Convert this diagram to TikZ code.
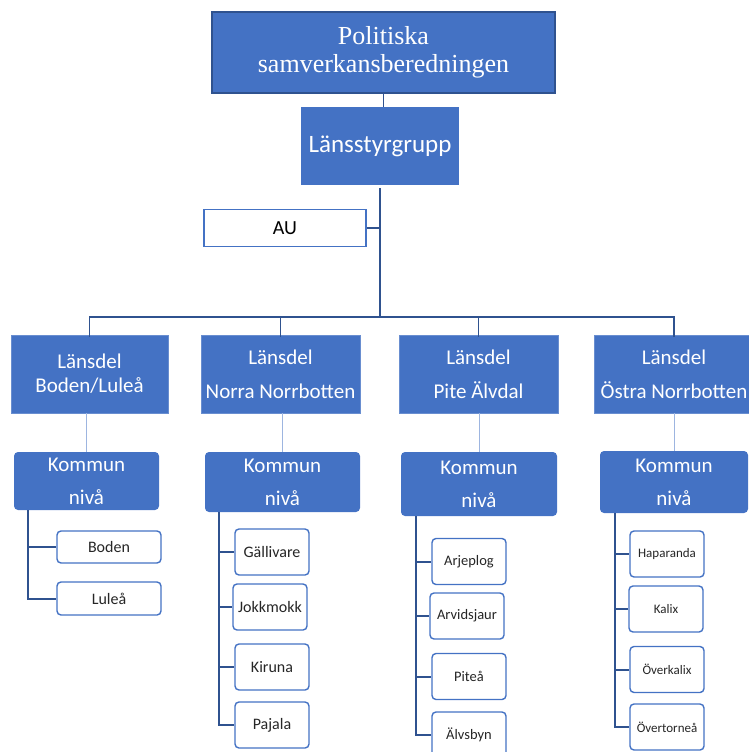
\documentclass[tikz,border=0pt]{standalone}
\usepackage{fontspec}
\setmainfont{Carlito}
\newfontfamily\titlefont{Liberation Serif}
\definecolor{orgblue}{HTML}{4472C4}
\definecolor{orgdark}{HTML}{2F528F}
\definecolor{orglight}{HTML}{9DB5E0}
\definecolor{leaftext}{HTML}{262626}
\tikzset{
    bluebox/.style={fill=orgblue, text=white, inner sep=0pt, align=center},
    topbox/.style={bluebox, draw=orgdark, line width=1.5pt, minimum width=343pt, minimum height=81pt,
        font=\titlefont\fontsize{26}{28}\selectfont},
    ldbox/.style={bluebox, draw=orgblue!80!white, line width=0.6pt, minimum height=78pt},
    kmbox/.style={bluebox, rounded corners=4pt, font=\fontsize{21}{33}\selectfont},
    leafbox/.style={draw=orgblue, fill=white, line width=1.4pt, rounded corners=4pt, inner sep=0pt,
        minimum width=74pt, minimum height=46pt, text=leaftext},
    trunk/.style={draw=orgdark, line width=1.7pt},
    busline/.style={draw=orgdark, line width=1.3pt},
    thinline/.style={draw=orglight, line width=0.9pt},
    spine/.style={draw=orgdark, line width=2pt}
}
\begin{document}
\begin{tikzpicture}[x=1pt, y=-1pt]
    \useasboundingbox (0, 0) rectangle (748, 752);
    % top levels
    \node[topbox] (pol) at (383.5, 52.5) {Politiska\\samverkansberedningen};
    \node[bluebox, minimum width=158pt, minimum height=78pt, font=\fontsize{25}{30}\selectfont] (lsg) at (380, 146) {Länsstyrgrupp};
    \node[draw=orgblue, line width=1.6pt, fill=white, inner sep=0pt, minimum width=162pt, minimum height=37pt,
        font=\fontsize{20}{24}\selectfont] (au) at (285, 228) {AU};
    \draw[trunk] (pol.south) -- (pol.south |- lsg.north);
    \coordinate (bus) at (380, 317);
    \draw[trunk] ([yshift=-3pt]lsg.south) -- (bus);
    \draw[trunk] (au.east) -- (au.east -| lsg.south);
    % länsdelar
    \node[ldbox, minimum width=157pt, font=\fontsize{21}{24}\selectfont] (ld1) at (89.5, 374) {Länsdel\\Boden/Luleå};
    \node[ldbox, minimum width=159pt, font=\fontsize{21}{34}\selectfont] (ld2) at (280.5, 374) {Länsdel\\Norra Norrbotten};
    \node[ldbox, minimum width=159pt, font=\fontsize{21}{34}\selectfont] (ld3) at (478.5, 374) {Länsdel\\Pite Älvdal};
    \node[ldbox, minimum width=160pt, font=\fontsize{21}{34}\selectfont] (ld4) at (674, 374) {Länsdel\\Östra Norrbotten};
    \draw[busline] ([yshift=-2pt]ld1.north) |- (bus) -| ([yshift=-2pt]ld4.north);
    \draw[busline] ([yshift=-2pt]ld2.north) -- (ld2.north |- bus);
    \draw[busline] ([yshift=-2pt]ld3.north) -- (ld3.north |- bus);
    % kommunnivå
    \node[kmbox, minimum width=145pt, minimum height=58pt] (km1) at (86.5, 481) {Kommun\\nivå};
    \node[kmbox, minimum width=155pt, minimum height=60pt] (km2) at (282.5, 482) {Kommun\\nivå};
    \node[kmbox, minimum width=156pt, minimum height=64pt] (km3) at (479, 484) {Kommun\\nivå};
    \node[kmbox, minimum width=148pt, minimum height=62pt] (km4) at (674, 482) {Kommun\\nivå};
    \draw[thinline] (ld1.south -| km1.north) -- (km1.north);
    \draw[thinline] (ld2.south -| km2.north) -- (km2.north);
    \draw[thinline] (ld3.south -| km3.north) -- (km3.north);
    \draw[thinline] (ld4.south -| km4.north) -- (km4.north);
    % kommuner
    \node[leafbox, minimum width=104pt, minimum height=32pt, font=\fontsize{16}{19}\selectfont] (boden) at (109, 547) {Boden};
    \node[leafbox, minimum width=104pt, minimum height=33pt, font=\fontsize{16}{19}\selectfont] (lulea) at (109, 598.5) {Luleå};
    \node[leafbox, font=\fontsize{16}{19}\selectfont] (gallivare) at (272, 552) {Gällivare};
    \node[leafbox, font=\fontsize{16}{19}\selectfont] (jokkmokk) at (270, 607) {Jokkmokk};
    \node[leafbox, font=\fontsize{16}{19}\selectfont] (kiruna) at (272, 667) {Kiruna};
    \node[leafbox, font=\fontsize{16}{19}\selectfont] (pajala) at (272, 725) {Pajala};
    \node[leafbox, font=\fontsize{14.5}{17}\selectfont] (arjeplog) at (469, 561.5) {Arjeplog};
    \node[leafbox, font=\fontsize{14.5}{17}\selectfont] (arvidsjaur) at (467, 616) {Arvidsjaur};
    \node[leafbox, font=\fontsize{14.5}{17}\selectfont] (pitea) at (469, 676.5) {Piteå};
    \node[leafbox, font=\fontsize{14.5}{17}\selectfont] (alvsbyn) at (469, 735) {Älvsbyn};
    \node[leafbox, font=\fontsize{13}{16}\selectfont] (haparanda) at (667, 554) {Haparanda};
    \node[leafbox, font=\fontsize{13}{16}\selectfont] (kalix) at (666, 609) {Kalix};
    \node[leafbox, font=\fontsize{13}{16}\selectfont] (overkalix) at (667, 669.5) {Överkalix};
    \node[leafbox, font=\fontsize{13}{16}\selectfont] (overtornea) at (667, 727) {Övertorneå};
    \coordinate (sp1) at ([xshift=14pt]km1.south west);
    \coordinate (sp2) at ([xshift=14pt]km2.south west);
    \coordinate (sp3) at ([xshift=15pt]km3.south west);
    \coordinate (sp4) at ([xshift=15pt]km4.south west);
    \draw[spine] (sp1) |- (lulea.west);
    \draw[spine] (sp1 |- boden.west) -- (boden.west);
    \draw[spine] (sp2) |- (pajala.west);
    \draw[spine] (sp2 |- gallivare.west) -- (gallivare.west);
    \draw[spine] (sp2 |- jokkmokk.west) -- (jokkmokk.west);
    \draw[spine] (sp2 |- kiruna.west) -- (kiruna.west);
    \draw[spine] (sp3) |- (alvsbyn.west);
    \draw[spine] (sp3 |- arjeplog.west) -- (arjeplog.west);
    \draw[spine] (sp3 |- arvidsjaur.west) -- (arvidsjaur.west);
    \draw[spine] (sp3 |- pitea.west) -- (pitea.west);
    \draw[spine] (sp4) |- (overtornea.west);
    \draw[spine] (sp4 |- haparanda.west) -- (haparanda.west);
    \draw[spine] (sp4 |- kalix.west) -- (kalix.west);
    \draw[spine] (sp4 |- overkalix.west) -- (overkalix.west);
\end{tikzpicture}
\end{document}
